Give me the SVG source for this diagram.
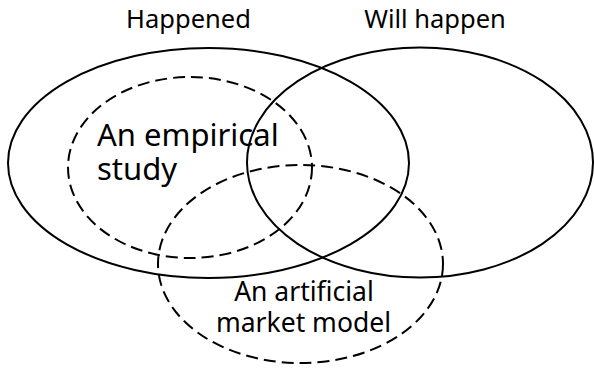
<svg xmlns="http://www.w3.org/2000/svg" width="594" height="369" viewBox="0 0 594 369">
  <style>
    .solid { fill: none; stroke: #000; stroke-width: 2; }
    .dash { fill: none; stroke: #000; stroke-width: 2; stroke-dasharray: 12 6; }
    text { font-family: "Noto Sans", "DejaVu Sans", sans-serif; fill: #000; }
    .hdr { font-size: 25.5px; }
    .big { font-size: 31px; }
    .mid { font-size: 26.5px; }
  </style>
  <rect width="594" height="369" fill="#fff"/>
  <g id="happened">
    <ellipse class="solid" cx="208.5" cy="163" rx="200.5" ry="115"/>
    <text class="hdr" x="188.5" y="28" text-anchor="middle">Happened</text>
  </g>
  <g id="will-happen">
    <ellipse class="solid" cx="420" cy="162.5" rx="173" ry="115"/>
    <text class="hdr" x="435" y="28" text-anchor="middle">Will happen</text>
  </g>
  <g id="empirical-study">
    <ellipse class="dash" cx="190" cy="167.5" rx="122" ry="90.5"/>
    <text class="big" x="97" y="146">An empirical</text>
    <text class="big" x="97" y="180">study</text>
  </g>
  <g id="artificial-market-model">
    <ellipse class="dash" cx="300.5" cy="264" rx="142.5" ry="99"/>
    <text class="mid" x="304" y="301" text-anchor="middle">An artificial</text>
    <text class="mid" x="303.5" y="332" text-anchor="middle">market model</text>
  </g>
  <g id="connectors"></g>
</svg>
